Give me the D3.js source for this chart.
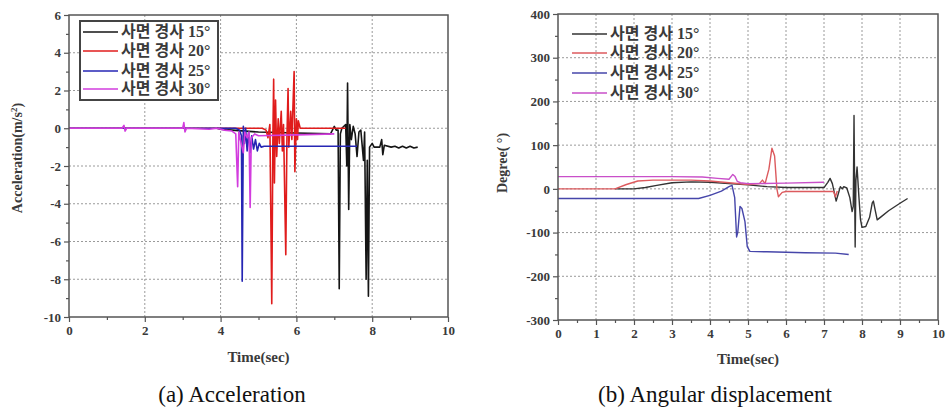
<!DOCTYPE html>
<html>
<head>
<meta charset="utf-8">
<script src="https://cdn.jsdelivr.net/npm/d3@7"></script>
<style>
  body { margin: 0; background: #fff; }
  svg text { font-family: "Liberation Serif", "Noto Sans CJK KR", serif; }
</style>
</head>
<body>
<svg id="chart" width="946" height="412"></svg>
<script>
// legend labels and colours
const seriesNames = ["사면 경사 15°", "사면 경사 20°", "사면 경사 25°", "사면 경사 30°"];
const accColors = ["#151515", "#e01c1c", "#2626b4", "#d23cde"];
const angColors = ["#333333", "#dc5a5e", "#4646aa", "#c94fc9"];

// (a) acceleration, [time, m/s2]
const acc15 = [[3.9,0],[4.0,-0.05],[4.3,-0.1],[5.0,-0.2],[6.0,-0.25],[6.9,-0.3],[7.0,0.1],[7.05,-0.1],[7.1,-0.1],[7.13,-8.5],[7.16,-0.3],[7.2,0],[7.3,0.2],[7.33,-2.0],[7.35,2.4],[7.38,-4.3],[7.41,0.2],[7.45,-0.6],[7.5,0.1],[7.55,-0.3],[7.6,-1.5],[7.65,-0.2],[7.7,-0.1],[7.77,-1.7],[7.8,-0.2],[7.84,-8.0],[7.87,-1.7],[7.9,-8.9],[7.93,-1.0],[8.0,-0.8],[8.05,-1.0],[8.2,-1.0],[8.25,-0.6],[8.28,-1.4],[8.32,-0.9],[8.5,-1.0],[8.6,-0.95],[8.7,-1.05],[8.8,-0.95],[8.9,-1.05],[9.0,-0.95],[9.1,-1.05],[9.2,-1.0]];
const acc20 = [[0,0],[5.1,0],[5.2,-0.1],[5.25,-0.5],[5.3,0.2],[5.35,-9.3],[5.38,-0.4],[5.4,2.6],[5.42,-2.9],[5.45,1.5],[5.48,-1.5],[5.52,0.5],[5.55,-0.8],[5.6,0.9],[5.63,-1.2],[5.66,0.2],[5.72,-6.7],[5.75,-0.5],[5.78,2.1],[5.8,-1.0],[5.85,0.9],[5.88,-0.6],[5.94,3.0],[5.96,-2.3],[6.0,0.5],[6.03,-0.6],[6.05,0.4],[6.1,0],[6.5,0],[7.0,0],[7.3,0]];
const acc25 = [[0,0],[4.4,0],[4.5,-0.1],[4.55,-0.4],[4.57,-8.1],[4.6,0.1],[4.63,-0.8],[4.66,0],[4.7,-1.2],[4.74,-0.2],[4.78,-1.3],[4.82,-0.4],[4.87,-1.1],[4.92,-0.6],[4.97,-1.2],[5.02,-0.8],[5.07,-1.0],[5.15,-0.95],[7.6,-0.95]];
const acc30 = [[0,0],[1.4,0],[1.45,0.15],[1.48,-0.15],[1.52,0],[3.0,0],[3.03,0.3],[3.06,-0.2],[3.1,0],[3.7,-0.05],[3.9,0],[4.1,-0.1],[4.3,-0.15],[4.4,-0.3],[4.45,-3.1],[4.48,-0.2],[4.52,-0.6],[4.6,-1.3],[4.64,-0.2],[4.7,-0.5],[4.75,-0.2],[4.78,-4.2],[4.81,-0.5],[4.9,-0.3],[5.0,-0.4],[6.0,-0.35],[7.0,-0.3]];

// (b) angular displacement, [time, degree]
const ang15 = [[1.5,0],[2.0,0],[2.3,3],[2.6,8],[3.0,14],[3.5,16],[4.0,15],[4.5,12],[5.0,9],[5.5,5],[6.0,3],[7.0,3],[7.1,15],[7.16,24],[7.22,12],[7.32,-28],[7.38,-10],[7.43,5],[7.48,0],[7.52,5],[7.6,2],[7.68,-20],[7.74,-52],[7.77,-40],[7.79,168],[7.8,60],[7.82,-133],[7.84,20],[7.87,50],[7.92,-20],[7.96,-70],[8.0,-88],[8.1,-86],[8.2,-65],[8.27,-32],[8.3,-28],[8.35,-50],[8.4,-71],[8.5,-64],[8.7,-50],[9.0,-33],[9.2,-22]];
const ang20 = [[0,0],[1.5,0],[1.8,10],[2.1,18],[2.5,20],[3.0,20],[3.5,20],[4.0,18],[4.5,14],[5.0,10],[5.3,12],[5.38,20],[5.45,12],[5.55,45],[5.63,93],[5.7,75],[5.76,0],[5.8,-18],[5.9,-8],[6.0,-6],[7.0,-6],[7.25,-6],[7.3,-18],[7.35,-5]];
const ang25 = [[0,-22],[1,-22],[2,-22],[3,-22],[3.7,-22],[4.0,-15],[4.3,-5],[4.5,5],[4.58,8],[4.65,-20],[4.7,-110],[4.73,-100],[4.79,-40],[4.84,-45],[4.92,-75],[4.98,-132],[5.05,-143],[5.5,-144],[6.5,-146],[7.3,-147],[7.65,-150]];
const ang30 = [[0,28],[1,28],[2,28],[3,28],[3.8,27],[4.2,24],[4.5,22],[4.6,33],[4.66,28],[4.72,17],[4.8,14],[5.0,12],[6.0,13],[7.0,15]];

// axis ticks
const accXTicks = [0, 2, 4, 6, 8, 10];
const accYTicks = [-10, -8, -6, -4, -2, 0, 2, 4, 6];
const angXTicks = [0, 1, 2, 3, 4, 5, 6, 7, 8, 9, 10];
const angYTicks = [-300, -200, -100, 0, 100, 200, 300, 400];

const svg = d3.select("#chart");

function panel(opt) {
	const x = d3.scaleLinear().domain(opt.xDomain).range([opt.left, opt.right]);
	const y = d3.scaleLinear().domain(opt.yDomain).range([opt.bottom, opt.top]);
	const g = svg.append("g");

	// dotted grid
	g.append("g").selectAll("line")
		.data(opt.xTicks.filter(d => d > opt.xDomain[0] && d < opt.xDomain[1]))
		.join("line")
		.attr("x1", d => x(d)).attr("x2", d => x(d))
		.attr("y1", opt.top).attr("y2", opt.bottom)
		.attr("stroke", "#9a9a9a").attr("stroke-dasharray", "2,2");
	g.append("g").selectAll("line")
		.data(opt.yTicks.filter(d => d > opt.yDomain[0] && d < opt.yDomain[1]))
		.join("line")
		.attr("y1", d => y(d)).attr("y2", d => y(d))
		.attr("x1", opt.left).attr("x2", opt.right)
		.attr("stroke", "#9a9a9a").attr("stroke-dasharray", "2,2");

	// axes with minor ticks (plain hyphen for negatives, as in the source)
	const fmt = d => String(d);
	const xAxis = d3.axisBottom(x).tickValues(opt.xTicks).tickSize(5).tickPadding(4).tickFormat(fmt);
	const yAxis = d3.axisLeft(y).tickValues(opt.yTicks).tickSize(5).tickPadding(3).tickFormat(fmt);
	g.append("g").attr("transform", "translate(0," + opt.bottom + ")").call(xAxis);
	g.append("g").attr("transform", "translate(" + opt.left + ",0)").call(yAxis);
	g.append("g").attr("transform", "translate(0," + opt.bottom + ")")
		.call(d3.axisBottom(x).tickValues(opt.xMinor).tickSize(3).tickFormat(""));
	g.append("g").attr("transform", "translate(" + opt.left + ",0)")
		.call(d3.axisLeft(y).tickValues(opt.yMinor).tickSize(3).tickFormat(""));
	g.selectAll(".domain").remove();
	g.selectAll(".tick line").attr("stroke", "#555").attr("stroke-width", 1.2);
	g.selectAll(".tick text").attr("fill", "#3a3a3a")
		.style("font-size", "13px").style("font-weight", "bold");

	// lines
	const line = d3.line().x(d => x(d[0])).y(d => y(d[1]));
	opt.series.forEach((s, i) => {
		g.append("path").datum(s)
			.attr("fill", "none")
			.attr("stroke", opt.colors[i])
			.attr("stroke-width", opt.lineWidth)
			.attr("stroke-linejoin", "round")
			.attr("d", line);
	});

	// frame
	g.append("rect")
		.attr("x", opt.left).attr("y", opt.top)
		.attr("width", opt.right - opt.left).attr("height", opt.bottom - opt.top)
		.attr("fill", "none").attr("stroke", "#555").attr("stroke-width", 1.5);

	// axis titles
	g.append("text")
		.attr("x", (opt.left + opt.right) / 2).attr("y", opt.xTitleY)
		.attr("text-anchor", "middle").attr("fill", "#3a3a3a")
		.style("font-size", "15px").style("font-weight", "bold")
		.text("Time(sec)");
	const yt = g.append("text")
		.attr("transform", "translate(" + opt.yTitleX + "," + opt.yTitleY + ") rotate(-90)")
		.attr("text-anchor", "middle").attr("fill", "#3a3a3a")
		.style("font-size", "14px").style("font-weight", "bold");
	opt.yTitle(yt);

	// caption
	g.append("text")
		.attr("x", opt.captionX).attr("y", 402)
		.attr("text-anchor", "middle").attr("fill", "#111")
		.style("font-size", "23px")
		.text(opt.caption);

	// legend
	const lg = g.append("g");
	if (opt.legendBox) {
		lg.append("rect")
			.attr("x", opt.legendBox[0]).attr("y", opt.legendBox[1])
			.attr("width", opt.legendBox[2]).attr("height", opt.legendBox[3])
			.attr("fill", "#fff").attr("stroke", "#444").attr("stroke-width", 2);
	}
	seriesNames.forEach((name, i) => {
		const ly = opt.legendY[i];
		lg.append("line")
			.attr("x1", opt.legendX[0]).attr("x2", opt.legendX[1])
			.attr("y1", ly).attr("y2", ly)
			.attr("stroke", opt.colors[i]).attr("stroke-width", 1.5);
		lg.append("text")
			.attr("x", opt.legendX[1] + 3).attr("y", ly + 5)
			.attr("fill", "#3a3a3a")
			.style("font-size", "16px").style("font-weight", opt.legendWeight)
			.text(name);
	});
}

panel({
	left: 69, right: 448, top: 15, bottom: 317,
	xDomain: [0, 10], yDomain: [-10, 6],
	xTicks: accXTicks, yTicks: accYTicks,
	xMinor: [1, 3, 5, 7, 9], yMinor: [-9, -7, -5, -3, -1, 1, 3, 5],
	series: [acc15, acc20, acc25, acc30], colors: accColors, lineWidth: 1.6,
	xTitleY: 362, yTitleX: 22, yTitleY: 158,
	yTitle: t => { t.append("tspan").text("Acceleration(m/s"); t.append("tspan").attr("dy", -5).style("font-size", "9px").text("2"); t.append("tspan").attr("dy", 5).text(")"); },
	caption: "(a) Acceleration", captionX: 232,
	legendBox: [80, 21, 138, 79], legendX: [83, 118], legendY: [32, 51, 71, 89], legendWeight: "bold"
});

panel({
	left: 558, right: 938, top: 14, bottom: 320,
	xDomain: [0, 10], yDomain: [-300, 400],
	xTicks: angXTicks, yTicks: angYTicks,
	xMinor: [0.5, 1.5, 2.5, 3.5, 4.5, 5.5, 6.5, 7.5, 8.5, 9.5], yMinor: [-250, -150, -50, 50, 150, 250, 350],
	series: [ang15, ang20, ang25, ang30], colors: angColors, lineWidth: 1.4,
	xTitleY: 364, yTitleX: 507, yTitleY: 163,
	yTitle: t => t.text("Degree( °)"),
	caption: "(b) Angular displacement", captionX: 715,
	legendBox: null, legendX: [572, 607], legendY: [34, 53, 73, 93], legendWeight: "600"
});
</script>
</body>
</html>
